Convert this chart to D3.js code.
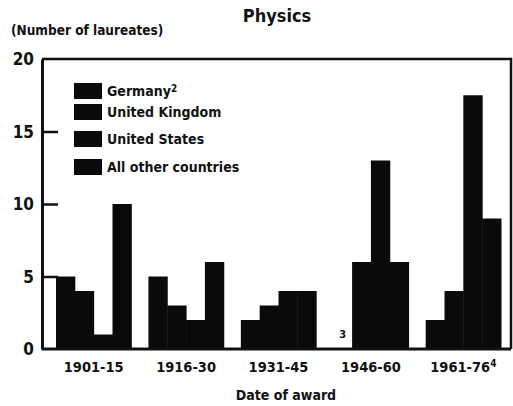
<!DOCTYPE html>
<html>
<head>
<meta charset="utf-8">
<script src="https://cdn.jsdelivr.net/npm/d3@7"></script>
<style>
  body { margin: 0; background: #fff; }
  svg text { font-family: "DejaVu Sans Condensed", "Liberation Sans Narrow", "Arial Narrow", sans-serif; font-weight: bold; fill: #111; }
</style>
</head>
<body>
<svg width="513" height="406"></svg>
<script>
// Nobel physics laureates by country
var periods   = ["1901-15", "1916-30", "1931-45", "1946-60", "1961-76"];
var countries = ["Germany", "United Kingdom", "United States", "All other countries"];
var germany   = [5, 5, 2, 0, 2];
var uk        = [4, 3, 3, 6, 4];
var us        = [1, 2, 4, 13, 17.5];
var others    = [10, 6, 4, 6, 9];
var yTicks    = [0, 5, 10, 15, 20];

var series = [germany, uk, us, others];

var svg = d3.select("svg");

var frame = {left: 42, right: 511, top: 59, bottom: 349};
var fontStack = "'DejaVu Sans Condensed', 'Liberation Sans Narrow', sans-serif";

// scales
var x0 = d3.scaleBand()
    .domain(periods)
    .range([56, 501])
    .paddingInner(0.185)
    .paddingOuter(0);

var x1 = d3.scaleBand()
    .domain(countries)
    .range([0, x0.bandwidth()]);

var y = d3.scaleLinear()
    .domain([0, 20])
    .range([frame.bottom, frame.top]);

// bars
var groups = svg.append("g").selectAll("g")
    .data(periods)
    .enter().append("g")
    .attr("transform", function(d) { return "translate(" + x0(d) + ",0)"; });

groups.selectAll("rect")
    .data(function(p, i) {
        return countries.map(function(c, j) { return {country: c, value: series[j][i]}; });
    })
    .enter().append("rect")
    .attr("x", function(d) { return x1(d.country); })
    .attr("y", function(d) { return y(d.value); })
    .attr("width", x1.bandwidth() + 0.5)
    .attr("height", function(d) { return y(0) - y(d.value); })
    .attr("fill", "#0a0a0a");

// footnote 3 where germany had no prize
svg.append("text")
    .attr("x", x0("1946-60") + x1("Germany") + x1.bandwidth() / 2)
    .attr("y", y(0) - 11)
    .attr("text-anchor", "middle")
    .style("font-size", "11px")
    .text("3");

// frame (top and right edges)
svg.append("path")
    .attr("d", "M" + frame.left + "," + frame.top + "H" + frame.right + "V" + frame.bottom)
    .attr("fill", "none")
    .attr("stroke", "#111")
    .attr("stroke-width", 2.5);

// baseline
svg.append("line")
    .attr("x1", frame.left).attr("x2", frame.right)
    .attr("y1", y(0)).attr("y2", y(0))
    .attr("stroke", "#111")
    .attr("stroke-width", 3);

// y axis, ticks pointing inward
var yAxis = svg.append("g")
    .attr("transform", "translate(" + frame.left + ",0)")
    .call(d3.axisLeft(y).tickValues(yTicks).tickSizeInner(-16).tickSizeOuter(0).tickPadding(8));
yAxis.select(".domain").attr("stroke", "#111").attr("stroke-width", 3);
yAxis.selectAll(".tick line").attr("stroke", "#111").attr("stroke-width", 2.5)
    .filter(function(d) { return d === 0 || d === 20; }).remove();
yAxis.selectAll(".tick text")
    .attr("dy", "0.35em")
    .style("font-size", "17px")
    .style("font-family", fontStack)
    .style("font-weight", "bold")
    .attr("fill", "#111");

// x axis labels
var xAxis = svg.append("g")
    .attr("transform", "translate(0," + (frame.bottom + 10) + ")")
    .call(d3.axisBottom(x0).tickSize(0).tickPadding(3));
xAxis.select(".domain").remove();
xAxis.selectAll(".tick text")
    .style("font-size", "14.5px")
    .style("font-family", fontStack)
    .style("font-weight", "bold")
    .attr("fill", "#111");
xAxis.selectAll(".tick")
    .filter(function(d) { return d === "1961-76"; })
    .select("text")
    .append("tspan")
    .attr("dy", "-0.5em")
    .style("font-size", "10px")
    .text("4");

// legend
var legend = svg.append("g").attr("transform", "translate(74,83)");
var legendRows = [0, 21, 48, 76];
var item = legend.selectAll("g")
    .data(countries)
    .enter().append("g")
    .attr("transform", function(d, i) { return "translate(0," + legendRows[i] + ")"; });
item.append("rect")
    .attr("width", 28)
    .attr("height", 16)
    .attr("fill", "#0a0a0a");
var lt = item.append("text")
    .attr("x", 33)
    .attr("y", 13)
    .style("font-size", "14px")
    .text(function(d) { return d; });
lt.filter(function(d) { return d === "Germany"; })
    .append("tspan")
    .attr("dy", "-0.45em")
    .style("font-size", "10px")
    .text("2");

// titles
svg.append("text")
    .attr("x", 277)
    .attr("y", 22)
    .attr("text-anchor", "middle")
    .style("font-size", "18px")
    .text("Physics");

svg.append("text")
    .attr("x", 11)
    .attr("y", 35)
    .style("font-size", "13.5px")
    .text("(Number of laureates)");

svg.append("text")
    .attr("x", 286)
    .attr("y", 400)
    .attr("text-anchor", "middle")
    .style("font-size", "14px")
    .text("Date of award");
</script>
</body>
</html>
